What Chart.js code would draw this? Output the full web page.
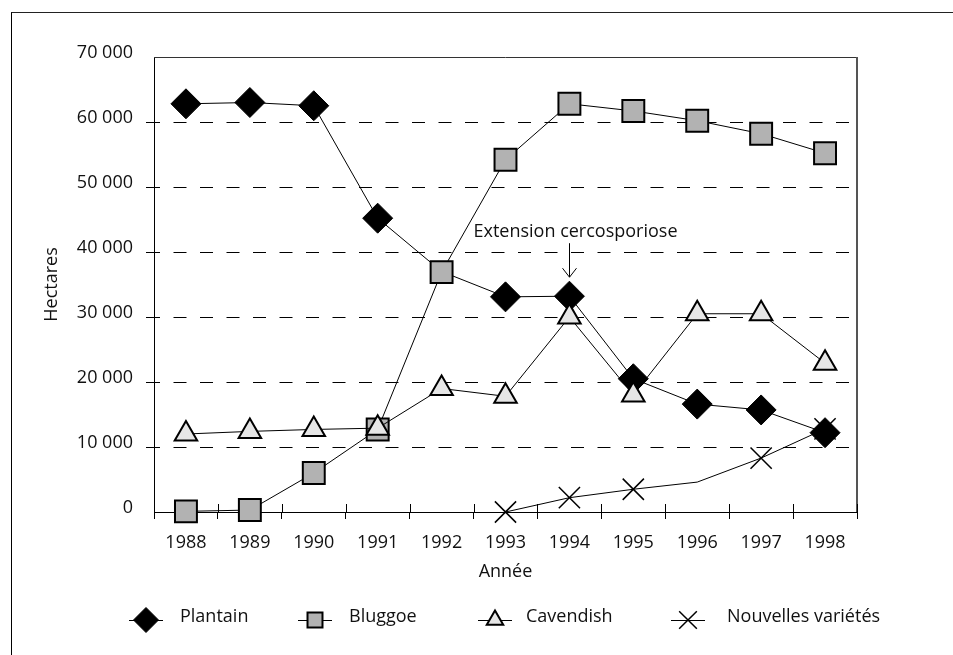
<!DOCTYPE html>
<html>
<head>
<meta charset="utf-8">
<script src="https://cdn.jsdelivr.net/npm/chart.js@4/dist/chart.umd.min.js"></script>
<style>
  body { margin: 0; background: #fff; }
  .wrap { position: relative; width: 953px; height: 655px; }
  .frame { position: absolute; left: 11px; top: 12px; right: 0; bottom: 0;
           border-top: 1px solid #222; border-left: 1px solid #000; }
  canvas { position: absolute; left: 0; top: 0; }
</style>
</head>
<body>
<div class="wrap">
  <div class="frame"></div>
  <canvas id="chart" width="953" height="655"></canvas>
</div>
<script>
// Données (hectares par année)
const years = ['1988', '1989', '1990', '1991', '1992', '1993', '1994', '1995', '1996', '1997', '1998'];
const plantain = [62800, 63000, 62500, 45200, 37000, 33100, 33200, 20500, 16600, 15700, 12200];
const bluggoe = [100, 300, 6000, 12700, 36900, 54200, 62800, 61700, 60200, 58200, 55200];
const cavendish = [12000, 12400, 12700, 12900, 19000, 17800, 30000, 18000, 30500, 30500, 22900];
const nouvelles = [null, null, null, null, null, 0, 2200, 3500, 4600, 8300, 12800];
const yTickLabels = ['0', '10 000', '20 000', '30 000', '40 000', '50 000', '60 000', '70 000'];
const annotationText = 'Extension cercosporiose';

const FONT = '"Open Sans", sans-serif';
const TXT = '#111';

const seriesStyle = [
    { label: 'Plantain', pointStyle: 'rectRot', bg: '#000', bw: 1, r: 15, legR: 12.5 },
    { label: 'Bluggoe', pointStyle: 'rect', bg: '#b2b2b2', bw: 2, r: 15.5, legR: 10.6 },
    { label: 'Cavendish', pointStyle: 'triangle', bg: '#e6e6e6', bw: 2, r: 13, legR: 9.5 },
    { label: 'Nouvelles variétés', pointStyle: 'crossRot', bg: '#000', bw: 1.5, r: 15, legR: 12.5 }
];

function makeSet(i, data, order, radius) {
    const s = seriesStyle[i];
    return {
        label: s.label,
        data: data,
        order: order,
        borderColor: '#000',
        borderWidth: 1,
        pointStyle: s.pointStyle,
        pointRadius: radius,
        pointHoverRadius: radius,
        pointBackgroundColor: s.bg,
        pointBorderColor: '#000',
        pointBorderWidth: s.bw,
        tension: 0,
        clip: false,
        spanGaps: false
    };
}

// cadre, graduations, annotation et légende
const extras = {
    id: 'extras',
    afterDraw(chart) {
        const ctx = chart.ctx;
        const a = chart.chartArea;
        const xs = chart.scales.x;
        const ys = chart.scales.y;
        ctx.save();

        // cadre du graphique (haut + droite)
        ctx.strokeStyle = '#333';
        ctx.lineWidth = 1;
        ctx.beginPath();
        ctx.moveTo(a.left, a.top + 0.5);
        ctx.lineTo(a.right, a.top + 0.5);
        ctx.stroke();
        ctx.strokeStyle = '#555';
        ctx.lineWidth = 2;
        ctx.beginPath();
        ctx.moveTo(a.right, a.top);
        ctx.lineTo(a.right, a.bottom);
        ctx.stroke();

        // graduations x qui traversent l'axe
        ctx.strokeStyle = '#000';
        ctx.lineWidth = 1;
        for (let i = 0; i <= years.length; i++) {
            const x = Math.round(xs.getPixelForValue(i - 0.5)) + 0.5;
            ctx.beginPath();
            ctx.moveTo(x, a.bottom - 8);
            ctx.lineTo(x, a.bottom);
            ctx.stroke();
        }

        // annotation "Extension cercosporiose"
        const ax = Math.round(xs.getPixelForValue(6)) + 0.5;
        const py = ys.getPixelForValue(plantain[6]);
        const tipY = py - 19;
        const startY = tipY - 34;
        ctx.fillStyle = TXT;
        ctx.font = '18px ' + FONT;
        ctx.textAlign = 'center';
        ctx.textBaseline = 'middle';
        ctx.fillText(annotationText, ax + 6, startY - 11);
        ctx.beginPath();
        ctx.moveTo(ax, startY);
        ctx.lineTo(ax, tipY);
        ctx.moveTo(ax - 7, tipY - 9);
        ctx.lineTo(ax, tipY);
        ctx.lineTo(ax + 7, tipY - 9);
        ctx.stroke();

        // légende
        const legX = [146, 315, 495, 688];
        const legY = 620;
        seriesStyle.forEach((s, i) => {
            const mx = legX[i];
            ctx.strokeStyle = '#000';
            ctx.lineWidth = 1;
            ctx.beginPath();
            ctx.moveTo(mx - 17, legY + 0.5);
            ctx.lineTo(mx + 17, legY + 0.5);
            ctx.stroke();
            ctx.fillStyle = s.bg;
            ctx.lineWidth = s.bw;
            Chart.helpers.drawPoint(ctx, {
                pointStyle: s.pointStyle, radius: s.legR, borderWidth: s.bw, rotation: 0
            }, mx, legY);
            ctx.fillStyle = TXT;
            ctx.font = '18px ' + FONT;
            ctx.textAlign = 'left';
            ctx.textBaseline = 'alphabetic';
            ctx.fillText(s.label, mx + 34 + (i === 3 ? 5 : 0) - (i === 2 ? 3 : 0), legY + 2);
        });

        ctx.restore();
    }
};

// ordre de dessin : Cavendish au-dessus, puis Bluggoe, Plantain, Nouvelles variétés
const ctxMain = document.getElementById('chart').getContext('2d');
const chart = new Chart(ctxMain, {
    type: 'line',
    data: {
        labels: years,
        datasets: [
            makeSet(0, plantain, 2, years.map(y => y === '1992' ? 0 : 15)),
            makeSet(1, bluggoe, 1, 15.5),
            makeSet(2, cavendish, 0, 13),
            makeSet(3, nouvelles, 3, years.map(y => y === '1996' ? 0 : 15))
        ]
    },
    options: {
        responsive: false,
        animation: false,
        events: [],
        layout: { padding: { top: 57, right: 96, bottom: 63, left: 0 } },
        plugins: {
            legend: { display: false },
            tooltip: { enabled: false }
        },
        scales: {
            x: {
                offset: true,
                grid: { offset: true, drawOnChartArea: false, color: '#000', lineWidth: 1, tickLength: 7 },
                border: { color: '#000', width: 1 },
                ticks: { padding: 13, color: TXT, font: { family: FONT, size: 18 }, autoSkip: false, maxRotation: 0 },
                title: { display: true, text: 'Année', color: TXT, font: { family: FONT, size: 18 }, padding: { top: 0, bottom: 9 } },
                afterFit: s => { s.height = 80; }
            },
            y: {
                min: 0,
                max: 70000,
                ticks: {
                    stepSize: 10000,
                    padding: 13,
                    labelOffset: -4,
                    color: TXT,
                    font: { family: FONT, size: 18 },
                    callback: (v, i) => yTickLabels[i]
                },
                grid: {
                    color: c => (c.tick && (c.tick.value === 0 || c.tick.value === 70000)) ? 'rgba(0,0,0,0)' : '#000',
                    lineWidth: 1,
                    tickLength: 8,
                    tickBorderDash: []
                },
                border: { color: '#000', width: 1, dash: [13, 13.5], dashOffset: 8 },
                title: { display: true, text: 'Hectares', color: TXT, font: { family: FONT, size: 18 }, padding: { top: 41, bottom: 0 } },
                afterFit: s => { s.width = 154; }
            }
        }
    },
    plugins: [extras]
});
</script>
</body>
</html>
